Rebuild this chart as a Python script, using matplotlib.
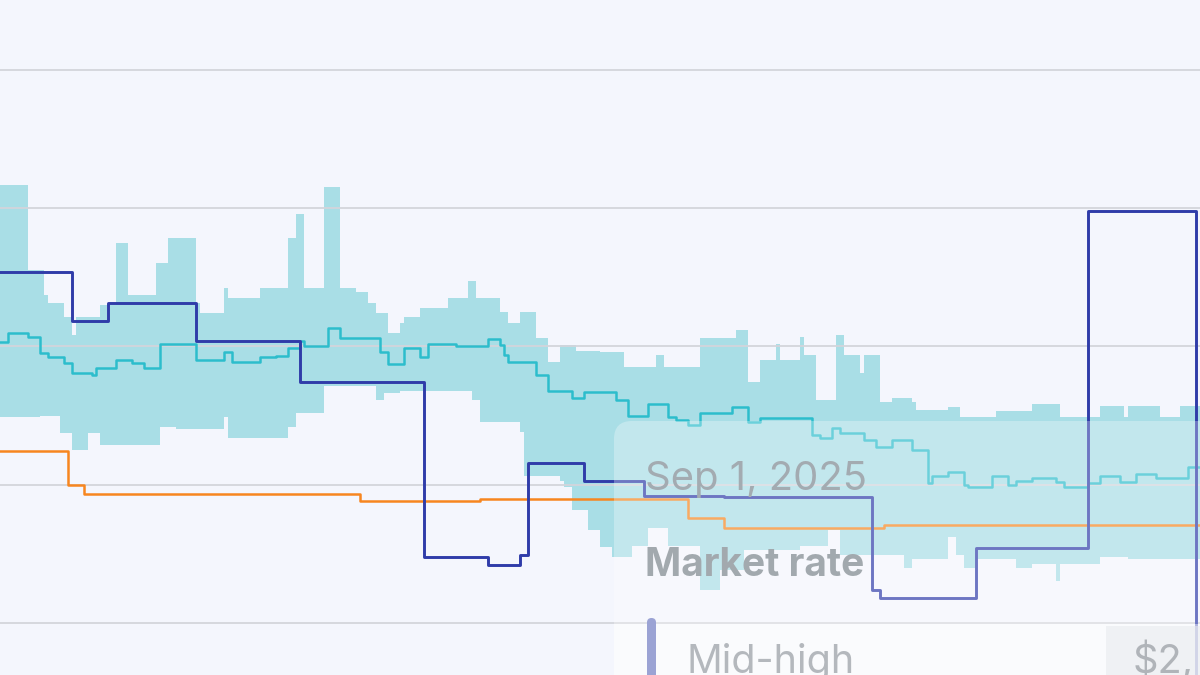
"""
Market rate chart (zoomed crop) with hover tooltip
"""

import numpy as np
import matplotlib.pyplot as plt
from matplotlib.patches import FancyBboxPatch, Rectangle
from matplotlib.transforms import IdentityTransform

START = np.datetime64('2025-03-26')
END_DAY = 300

# market band, high edge (day offset where each step starts, $)
high_days = [0, 7, 11, 12, 16, 18, 19, 25, 29, 32, 39, 42, 49, 50, 56, 57, 65, 72, 74, 76,
             81, 85, 89, 92, 94, 97, 100, 101, 105, 112, 117, 119, 125, 127, 130, 134, 137, 140, 144, 150,
             156, 164, 166, 175, 184, 187, 190, 194, 195, 200, 201, 204, 209, 211, 215, 216, 220, 223, 228, 229,
             237, 240, 249, 258, 265, 275, 281, 282, 290, 295]
high_vals = [3085, 2775, 2685, 2655, 2605, 2540, 2605, 2650, 2875, 2685, 2800, 2890, 2655, 2620, 2710, 2675, 2710, 2890, 2980, 2710,
             3075, 2710, 2695, 2655, 2620, 2550, 2585, 2605, 2640, 2675, 2735, 2675, 2625, 2585, 2625, 2530, 2445, 2505, 2485, 2480,
             2425, 2470, 2425, 2530, 2560, 2370, 2450, 2510, 2450, 2535, 2470, 2305, 2540, 2470, 2405, 2470, 2300, 2315, 2300, 2270,
             2280, 2245, 2265, 2290, 2245, 2285, 2245, 2285, 2245, 2285]

# market band, low edge
low_days = [0, 10, 15, 18, 22, 25, 40, 44, 56, 57, 72, 74, 81, 94, 96, 100, 118, 120, 130, 131,
            140, 141, 143, 147, 150, 153, 158, 162, 167, 175, 180, 186, 200, 207, 210, 226, 228, 237, 239, 241,
            244, 254, 258, 264, 265, 275, 282]
low_vals = [2245, 2250, 2185, 2125, 2185, 2145, 2210, 2200, 2245, 2170, 2210, 2260, 2355, 2305, 2330, 2340, 2305, 2225, 2190, 2030,
            2015, 1990, 1910, 1835, 1775, 1740, 1780, 1845, 1780, 1620, 1690, 1765, 1780, 1835, 1745, 1700, 1730, 1810, 1745, 1700,
            1730, 1700, 1715, 1650, 1715, 1740, 1730]

# market median
mid_days = [0, 2, 7, 10, 12, 16, 18, 23, 24, 29, 33, 36, 40, 49, 56, 58, 65, 69, 72, 75,
            76, 82, 85, 95, 97, 101, 105, 107, 114, 122, 125, 126, 127, 134, 137, 143, 146, 154, 157, 162,
            167, 169, 172, 175, 183, 187, 190, 203, 205, 208, 210, 216, 219, 223, 228, 232, 233, 237, 241, 242,
            248, 252, 254, 258, 264, 266, 272, 275, 280, 284, 289, 297]
mid_vals = [2515, 2550, 2535, 2475, 2460, 2440, 2405, 2395, 2420, 2450, 2440, 2420, 2510, 2450, 2480, 2445, 2460, 2465, 2495, 2520,
            2500, 2565, 2530, 2480, 2435, 2495, 2460, 2510, 2500, 2525, 2505, 2470, 2445, 2395, 2340, 2315, 2335, 2305, 2250, 2290,
            2245, 2235, 2215, 2260, 2280, 2225, 2240, 2180, 2170, 2205, 2185, 2160, 2135, 2160, 2125, 2005, 2030, 2045, 2000, 1990,
            2030, 2000, 2015, 2025, 2010, 1990, 2005, 2030, 2010, 2040, 2025, 2065]

# mid-high rate
mh_days = [0, 18, 27, 49, 75, 106, 122, 130, 132, 146, 161, 181, 218, 220, 244, 272, 299]
mh_vals = [2770, 2590, 2655, 2520, 2370, 1740, 1710, 1745, 2080, 2015, 1960, 1955, 1620, 1590, 1770, 2990, 1200]

# orange rate
or_days = [0, 17, 21, 90, 120, 172, 181, 221]
or_vals = [2120, 2000, 1965, 1940, 1950, 1880, 1845, 1855]

grid_levels = [1500, 2000, 2500, 3000, 3500]

BG = '#f4f6fd'
BAND = '#a9dee6'
TEAL = '#2cbdcc'
BLUE = '#2f3ca9'
ORANGE = '#f7861f'


def to_dates(days):
    return START + np.asarray(days).astype('timedelta64[D]')


def step_series(days, vals):
    x = np.append(days, END_DAY)
    y = np.append(vals, vals[-1])
    return to_dates(x), y


def step_at(days, vals, x):
    idx = np.searchsorted(days, x, side='right') - 1
    return np.asarray(vals)[idx]


def main():
    fig = plt.figure(figsize=(12, 6.75), dpi=100, facecolor=BG)
    ax = fig.add_axes([0, 0, 1, 1])
    ax.set_facecolor(BG)

    # band
    edges = np.array(sorted(set(high_days) | set(low_days)))
    lo = step_at(low_days, low_vals, edges)
    hi = step_at(high_days, high_vals, edges)
    bx = to_dates(np.append(edges, END_DAY))
    ax.fill_between(bx, np.append(lo, lo[-1]), np.append(hi, hi[-1]),
                    step='post', color=BAND, lw=0, zorder=1)

    for d, v, c, lw in [(mid_days, mid_vals, TEAL, 1.8),
                        (or_days, or_vals, ORANGE, 1.8),
                        (mh_days, mh_vals, BLUE, 2.1)]:
        x, y = step_series(d, v)
        ax.step(x, y, where='post', color=c, lw=lw, zorder=3)

    ax.set_yticks(grid_levels)
    ax.set_xticks([])
    ax.grid(axis='y', color='#d3d5db', lw=1.3, zorder=2)
    ax.set_axisbelow(False)
    ax.tick_params(length=0, labelleft=False)
    for s in ax.spines.values():
        s.set_visible(False)
    ax.set_xlim(to_dates([0])[0], to_dates([END_DAY])[0])
    ax.set_ylim(1312, 3752)

    # tooltip (pixel coords, origin bottom-left)
    ident = IdentityTransform()
    box = FancyBboxPatch((614, -80), 700, 334, boxstyle='round,pad=0,rounding_size=18',
                         transform=ident, facecolor='white', edgecolor='none', alpha=0.3, zorder=5)
    fig.add_artist(box)
    row = Rectangle((614, -10), 700, 61, transform=ident, facecolor='white',
                    edgecolor='none', alpha=0.45, zorder=5)
    fig.add_artist(row)
    vbox = Rectangle((1106, -10), 200, 59, transform=ident, facecolor='#e9ebef',
                     edgecolor='none', alpha=0.6, zorder=5)
    fig.add_artist(vbox)
    bar = FancyBboxPatch((647, -20), 9, 77, boxstyle='round,pad=0,rounding_size=4.5',
                         transform=ident, facecolor='#9ba3d4', edgecolor='none', zorder=6)
    fig.add_artist(bar)

    fam = ['Inter', 'DejaVu Sans']
    fig.text(645 / 1200, 1 - 490 / 675, 'Sep 1, 2025', family=fam, fontsize=28.8,
             color='#a3abb1', zorder=7)
    fig.text(645 / 1200, 1 - 576 / 675, 'Market rate', family=fam, fontsize=28,
             fontweight='bold', color='#a2a9ae', zorder=7)
    fig.text(686 / 1200, 1 - 673 / 675, 'Mid-high', family=fam, fontsize=28.5,
             color='#b4b8bd', zorder=7)
    fig.text(1133 / 1200, 1 - 673 / 675, '$2,', family=fam, fontsize=28.5,
             color='#b0b4b9', zorder=7)

    fig.savefig('out.png', dpi=100, facecolor=BG)
    plt.close(fig)


if __name__ == '__main__':
    main()
